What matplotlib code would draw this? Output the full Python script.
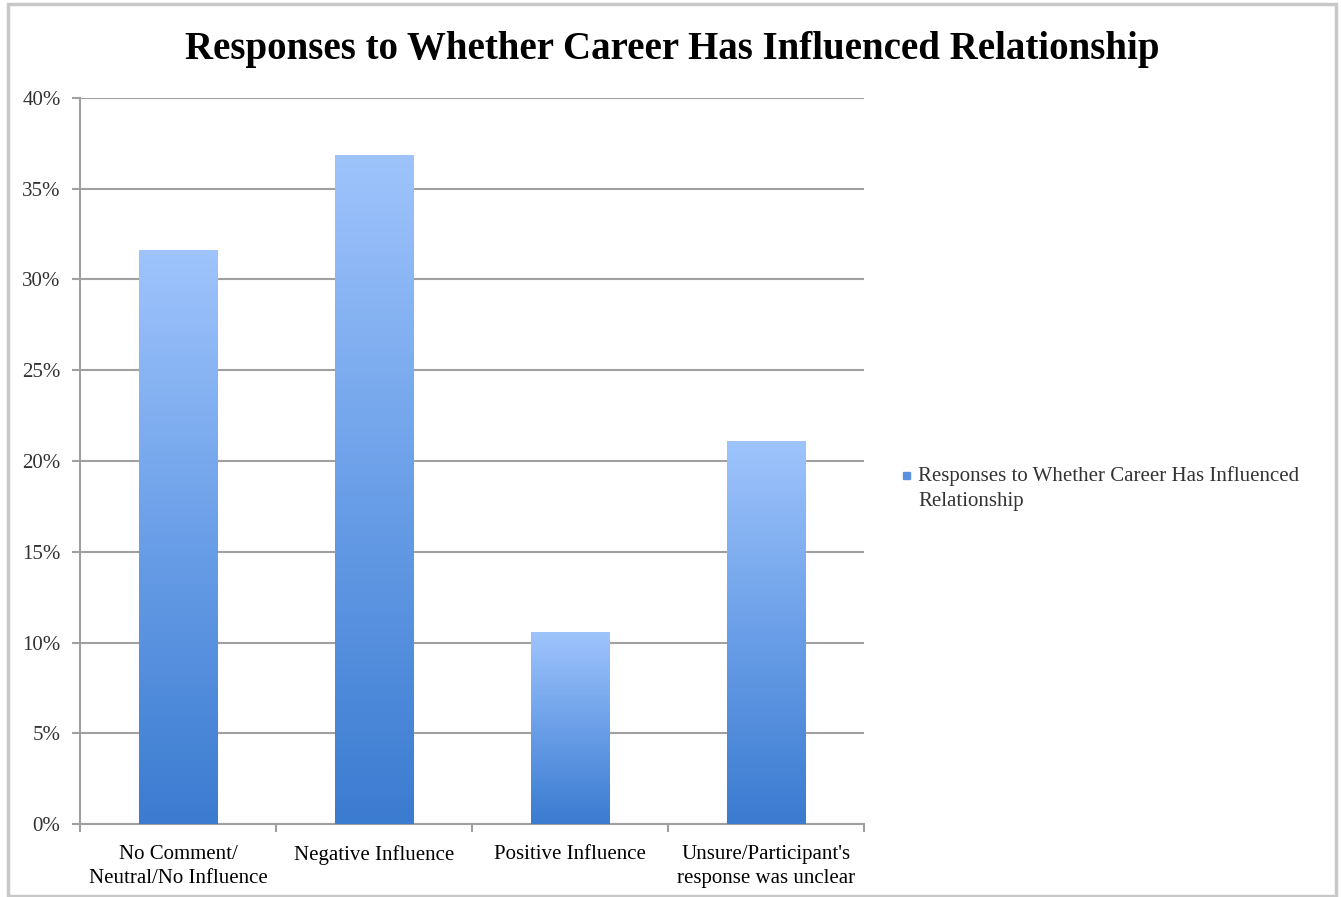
import matplotlib.pyplot as plt
import numpy as np
from matplotlib.colors import LinearSegmentedColormap
from matplotlib.patches import Rectangle
from matplotlib.ticker import PercentFormatter

categories = ["No Comment/\nNeutral/No Influence", "Negative Influence",
              "Positive Influence", "Unsure/Participant's\nresponse was unclear"]
values = [31.58, 36.84, 10.53, 21.05]
series_name = "Responses to Whether Career Has Influenced\nRelationship"
title = "Responses to Whether Career Has Influenced Relationship"

plt.rcParams['font.family'] = ['Liberation Serif', 'DejaVu Serif']

fig = plt.figure(figsize=(13.41, 8.97), dpi=100)
W, H = 1341, 897
ax = fig.add_axes([80 / W, 1 - 824 / H, (864 - 80) / W, (824 - 98) / H])

# outer frame round the whole chart
fig.patches.append(Rectangle((8 / W, 1 / H), (1336 - 8) / W, (892) / H,
                             transform=fig.transFigure, fill=False,
                             edgecolor="#c8c8c8", linewidth=2.5))

# vertical gradient: dark blue at the base, light blue at the top
cmap = LinearSegmentedColormap.from_list("bar", ["#3b7bd0", "#6a9fe8", "#9fc4fc"])
grad = np.linspace(0, 1, 256).reshape(-1, 1)

bar_w = 0.4
x = np.arange(len(categories))
for xi, v in zip(x, values):
    ax.imshow(grad, cmap=cmap, origin="lower", aspect="auto",
              extent=(xi - bar_w / 2, xi + bar_w / 2, 0, v), zorder=3)

ax.set_xlim(-0.5, len(categories) - 0.5)
ax.set_ylim(0, 40)
ax.set_yticks(np.arange(0, 41, 5))
ax.yaxis.set_major_formatter(PercentFormatter(decimals=0))
ax.grid(axis="y", color="#a0a0a0", linewidth=1.5, zorder=0)

# category labels centred, ticks on the category boundaries
ax.set_xticks(x)
ax.set_xticklabels(categories, fontsize=15, linespacing=1.4, va="top")
ax.set_xticks(np.arange(-0.5, len(categories)), minor=True)
ax.tick_params(axis="x", which="major", length=0, pad=15)
ax.tick_params(axis="x", which="minor", length=6, width=1.5, color="#a0a0a0")
ax.tick_params(axis="y", length=6, width=1.5, color="#a0a0a0", labelsize=15,
               labelcolor="#333333", pad=8)

for side in ["top", "right"]:
    ax.spines[side].set_visible(False)
for side in ["left", "bottom"]:
    ax.spines[side].set_color("#a0a0a0")
    ax.spines[side].set_linewidth(1.5)

fig.text(672 / W, 1 - 50 / H, title, ha="center", va="center",
         fontsize=28, fontweight="bold")

# legend entry
fig.patches.append(Rectangle((903 / W, 1 - 479 / H), 7 / W, 7 / H,
                             transform=fig.transFigure, color="#5b92e0"))
fig.text(918 / W, 1 - 466 / H, series_name, ha="left", va="top",
         fontsize=15, color="#333333", linespacing=1.4)

fig.savefig("out.png", dpi=100)
